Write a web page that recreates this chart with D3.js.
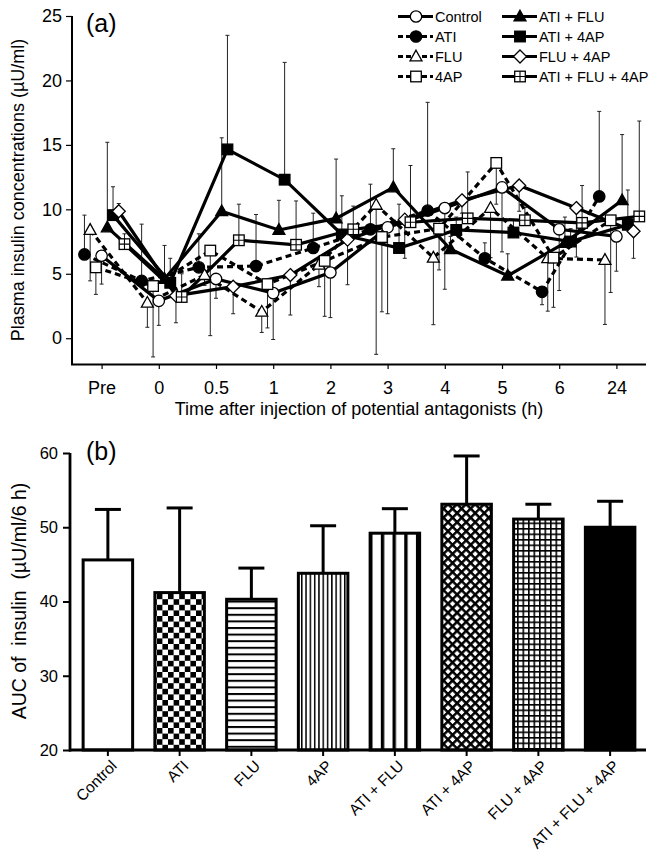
<!DOCTYPE html>
<html><head><meta charset="utf-8">
<script src="https://cdn.jsdelivr.net/npm/d3@7"></script>
<style>
body{margin:0;background:#fff;}
svg{display:block;font-family:"Liberation Sans",Arial,Helvetica,sans-serif;}
</style></head><body>
<svg id="chart" width="650" height="851"></svg>
<script>
// ---------- DATA: panel (a) ----------
const timeLabels = ["Pre","0","0.5","1","2","3","4","5","6","24"];
const seriesNames = ["Control","ATI","FLU","4AP","ATI + FLU","ATI + 4AP","FLU + 4AP","ATI + FLU + 4AP"];
// mean values (µU/ml)
const control = [6.4, 2.9, 4.6, 3.5, 5.1, 8.6, 10.1, 11.7, 8.45, 7.9];
const ati     = [6.5, 4.45, 5.5, 5.6, 7.0, 8.45, 9.9, 6.2, 3.6, 11.0];
const flu     = [8.4, 2.75, 4.9, 2.05, 5.7, 10.35, 6.25, 10.1, 6.2, 6.07];
const ap4     = [5.5, 4.05, 6.8, 4.2, 6.0, 7.85, 8.5, 13.6, 6.25, 9.15];
const atiFlu  = [8.6, 4.6, 9.85, 8.4, 9.3, 11.7, 6.9, 4.85, 7.4, 10.7];
const ati4ap  = [9.55, 4.3, 14.65, 12.3, 8.05, 7.0, 8.4, 8.2, 7.5, 8.8];
const flu4ap  = [9.85, 3.3, 4.0, 4.9, 7.65, 9.2, 10.7, 11.85, 10.1, 8.3];
const all3    = [7.3, 3.2, 7.6, 7.25, 8.45, 9.0, 9.3, 9.15, 8.95, 9.45];
// SD (positive = bar drawn upward, negative = drawn downward)
const controlErr = [-2.2, -1.9, -1.5, -3.6, -3.5, -6.7, -6.3, -5.0, -4.75, -2.7];
const atiErr     = [3.05, 4.4, 2.6, 4.0, 2.7, 3.5, 8.4, 1.2, -1.0, 6.6];
const fluErr     = [-3.95, -1.9, -0.8, -1.6, -1.7, -11.6, -5.2, -3.85, -4.1, -5.0];
const ap4Err     = [-2.1, -5.5, -6.6, -3.4, -4.3, -5.8, -3.2, -3.2, -3.85, -5.6];
const atiFluErr  = [6.6, 2.6, 5.7, 2.3, 4.6, 3.0, 1.0, 1.7, 2.0, 5.1];
const ati4apErr  = [2.2, 1.9, 8.85, 9.1, 3.0, 3.4, 1.0, 1.0, 1.0, 2.7];
const flu4apErr  = [0.6, -2.1, -2.1, -3.1, -3.5, -3.0, -1.0, -2.0, -3.8, -2.1];
const all3Err    = [0.8, 1.8, 2.8, 3.4, 1.8, 4.4, 3.6, 1.0, 2.9, 7.4];
const yTicksA = [0, 5, 10, 15, 20, 25];

// ---------- DATA: panel (b) ----------
const aucGroups = ["Control","ATI","FLU","4AP","ATI + FLU","ATI + 4AP","FLU + 4AP","ATI + FLU + 4AP"];
const aucMean = [45.6, 41.2, 40.3, 43.8, 49.2, 53.1, 51.1, 50.0];
const aucSD   = [6.8, 11.4, 4.2, 6.4, 3.3, 6.5, 2.0, 3.5];
const yTicksB = [20, 30, 40, 50, 60];

// ---------- styles ----------
const seriesValues = [control, ati, flu, ap4, atiFlu, ati4ap, flu4ap, all3];
const seriesErrs = [controlErr, atiErr, fluErr, ap4Err, atiFluErr, ati4apErr, flu4apErr, all3Err];
const markerType = ["circle","circleF","tri","square","triF","squareF","diamond","squareX"];
const dashed = [false, true, true, true, false, false, false, false];
const dodge = [0, -3, -2, -1, 1, 2, 3, 4];
const series = seriesNames.map((n, i) => ({name: n, values: seriesValues[i], err: seriesErrs[i],
  marker: markerType[i], dashed: dashed[i], dodge: dodge[i]}));

const svg = d3.select("#chart");
const FONT = '"Liberation Sans", Arial, Helvetica, sans-serif';

function drawMarker(g, type, x, y) {
  const sw = 1.3;
  if (type === "circle" || type === "circleF") {
    g.append("circle").attr("cx", x).attr("cy", y).attr("r", 5.7)
      .attr("fill", type === "circleF" ? "#000" : "#fff").attr("stroke", "#000").attr("stroke-width", sw);
  } else if (type === "tri" || type === "triF") {
    const s = 6.3;
    g.append("path").attr("d", `M${x},${y - s}L${x + s * 0.95},${y + s * 0.7}L${x - s * 0.95},${y + s * 0.7}Z`)
      .attr("fill", type === "triF" ? "#000" : "#fff").attr("stroke", "#000").attr("stroke-width", sw);
  } else if (type === "square" || type === "squareF" || type === "squareX") {
    const s = 5.3;
    g.append("rect").attr("x", x - s).attr("y", y - s).attr("width", 2 * s).attr("height", 2 * s)
      .attr("fill", type === "squareF" ? "#000" : "#fff").attr("stroke", "#000").attr("stroke-width", sw);
    if (type === "squareX") {
      g.append("path").attr("d", `M${x - s},${y}H${x + s}M${x},${y - s}V${y + s}`)
        .attr("stroke", "#000").attr("stroke-width", 1.1).attr("fill", "none");
    }
  } else if (type === "diamond") {
    const s = 6.5;
    g.append("path").attr("d", `M${x},${y - s}L${x + s},${y}L${x},${y + s}L${x - s},${y}Z`)
      .attr("fill", "#fff").attr("stroke", "#000").attr("stroke-width", sw);
  }
}

// ================= PANEL (a) =================
const xA = d3.scaleLinear().domain([-0.5, 9.5]).range([73, 645]);
const yA = d3.scaleLinear().domain([-2, 25]).range([364, 16]);
const step = xA(1) - xA(0);
const gA = svg.append("g");

// axes
const axA = gA.append("g").attr("transform", "translate(0,364)")
  .call(d3.axisBottom(xA).tickValues(d3.range(timeLabels.length)).tickFormat(i => timeLabels[i])
    .tickSize(5).tickSizeOuter(0).tickPadding(12));
axA.select(".domain").attr("d", "M71,0.5H646").attr("stroke-width", 2);
axA.selectAll(".tick line").attr("stroke-width", 1.2);
axA.selectAll("text").attr("font-size", 18).attr("font-family", FONT).attr("fill", "#000");

const ayA = gA.append("g").attr("transform", "translate(72,0)")
  .call(d3.axisLeft(yA).tickValues(yTicksA).tickSize(6).tickSizeOuter(0).tickPadding(4));
ayA.select(".domain").attr("d", `M0,${yA(25)}V365`).attr("stroke-width", 2);
ayA.selectAll(".tick line").attr("stroke-width", 1.2);
ayA.selectAll("text").attr("font-size", 18).attr("font-family", FONT).attr("fill", "#000");

gA.append("text").attr("x", 359).attr("y", 415).attr("text-anchor", "middle")
  .attr("font-size", 18).text("Time after injection of potential antagonists (h)");
gA.append("text").attr("transform", "translate(24,190) rotate(-90)").attr("text-anchor", "middle")
  .attr("font-size", 18).text("Plasma insulin concentrations (\u00b5U/ml)");
gA.append("text").attr("x", 86).attr("y", 32).attr("font-size", 25).text("(a)");

const px = (s, i) => xA(i) + s.dodge * step * 0.1;

// error bars
const gErr = gA.append("g").attr("stroke", "#222").attr("stroke-width", 1);
series.forEach(s => {
  s.values.forEach((v, i) => {
    const x = px(s, i), y0 = yA(v), y1 = yA(v + s.err[i]);
    gErr.append("line").attr("x1", x).attr("x2", x).attr("y1", y0).attr("y2", y1);
    gErr.append("line").attr("x1", x - 2).attr("x2", x + 2).attr("y1", y1).attr("y2", y1);
  });
});
// lines
const line = d3.line().x(d => d.x).y(d => d.y);
series.forEach(s => {
  const pts = s.values.map((v, i) => ({x: px(s, i), y: yA(v)}));
  gA.append("path").attr("d", line(pts)).attr("fill", "none").attr("stroke", "#000")
    .attr("stroke-width", 3.2).attr("stroke-dasharray", s.dashed ? "6,4" : null);
});
// markers
series.forEach(s => {
  const g = gA.append("g");
  s.values.forEach((v, i) => drawMarker(g, s.marker, px(s, i), yA(v)));
});

// legend
const leg = gA.append("g");
series.forEach((s, i) => {
  const col = i < 4 ? 0 : 1, row = i % 4;
  const x0 = col === 0 ? 398 : 502, y = 16.5 + row * 20;
  leg.append("line").attr("x1", x0).attr("x2", x0 + 35).attr("y1", y).attr("y2", y)
    .attr("stroke", "#000").attr("stroke-width", 3).attr("stroke-dasharray", s.dashed ? "5,3" : null);
  drawMarker(leg, s.marker, x0 + 18, y);
  leg.append("text").attr("x", x0 + 37).attr("y", y + 5.5).attr("font-size", 14.5).text(s.name);
});

// ================= PANEL (b) =================
const xB = d3.scaleBand().domain(aucGroups).range([72, 646]).paddingInner(0.31).paddingOuter(0.155);
const yB = d3.scaleLinear().domain([20, 60]).range([750, 453]);
const gB = svg.append("g");
const defs = svg.append("defs");

function pat(id, w, h) {
  const p = defs.append("pattern").attr("id", id).attr("patternUnits", "userSpaceOnUse")
    .attr("width", w).attr("height", h);
  p.append("rect").attr("width", w).attr("height", h).attr("fill", "#fff");
  return p;
}
// ATI checker
let p = pat("pChk", 11.2, 11.2);
p.append("rect").attr("width", 5.6).attr("height", 5.6).attr("fill", "#000");
p.append("rect").attr("x", 5.6).attr("y", 5.6).attr("width", 5.6).attr("height", 5.6).attr("fill", "#000");
// FLU horizontal
p = pat("pHor", 10, 6.6);
p.append("rect").attr("width", 10).attr("height", 2).attr("fill", "#000");
// 4AP thin vertical
p = pat("pVer", 4.3, 10);
p.append("rect").attr("width", 1.5).attr("height", 10).attr("fill", "#000");
// ATI+FLU thick vertical stripes (aligned to bar)
p = pat("pStripe", 11.7, 10).attr("x", xB("ATI + FLU") - 1);
p.append("rect").attr("width", 3.4).attr("height", 10).attr("fill", "#000");
// ATI+4AP crosshatch
p = pat("pCross", 6.4, 6.4).attr("patternTransform", "rotate(45)");
p.append("rect").attr("width", 2.5).attr("height", 6.4).attr("fill", "#000");
p.append("rect").attr("width", 6.4).attr("height", 2.5).attr("fill", "#000");
// FLU+4AP fine grid
p = pat("pGrid", 5.5, 5.5);
p.append("rect").attr("width", 1.6).attr("height", 5.5).attr("fill", "#000");
p.append("rect").attr("width", 5.5).attr("height", 1.6).attr("fill", "#000");

const fills = ["#fff", "url(#pChk)", "url(#pHor)", "url(#pVer)", "url(#pStripe)", "url(#pCross)", "url(#pGrid)", "#000"];

gB.selectAll("rect.bar").data(aucGroups).join("rect").attr("class", "bar")
  .attr("x", d => xB(d)).attr("width", xB.bandwidth())
  .attr("y", (d, i) => yB(aucMean[i])).attr("height", (d, i) => yB(20) - yB(aucMean[i]))
  .attr("fill", (d, i) => fills[i]).attr("stroke", "#000").attr("stroke-width", 3);

// error bars (upward)
aucGroups.forEach((d, i) => {
  const cx = xB(d) + xB.bandwidth() / 2, yt = yB(aucMean[i] + aucSD[i]);
  gB.append("line").attr("x1", cx).attr("x2", cx).attr("y1", yB(aucMean[i])).attr("y2", yt)
    .attr("stroke", "#000").attr("stroke-width", 3);
  gB.append("line").attr("x1", cx - 13).attr("x2", cx + 13).attr("y1", yt).attr("y2", yt)
    .attr("stroke", "#000").attr("stroke-width", 3);
});

const ayB = gB.append("g").attr("transform", "translate(70,0)")
  .call(d3.axisLeft(yB).tickValues(yTicksB).tickSize(7).tickSizeOuter(0).tickPadding(5));
ayB.select(".domain").attr("d", `M0,${yB(60)}V${yB(20) + 1.5}`).attr("stroke-width", 2.8);
ayB.selectAll(".tick line").attr("stroke-width", 2);
ayB.selectAll("text").attr("font-size", 16.5).attr("font-family", FONT).attr("fill", "#000");

const axB = gB.append("g").attr("transform", "translate(0,750)")
  .call(d3.axisBottom(xB).tickSize(6).tickSizeOuter(0));
axB.select(".domain").attr("d", "M69,0H646").attr("stroke-width", 2.8);
axB.selectAll(".tick line").attr("stroke-width", 2);
axB.selectAll("text").attr("font-size", 15.5).attr("font-family", FONT).attr("fill", "#000")
  .attr("text-anchor", "end").attr("dy", "0.35em").attr("y", 0)
  .attr("transform", "translate(6,13) rotate(-45)");

gB.append("text").attr("transform", "translate(26,601) rotate(-90)").attr("text-anchor", "middle")
  .attr("font-size", 19.5).attr("xml:space", "preserve").style("white-space", "pre")
  .text("AUC of  insulin  (\u00b5U/ml/6 h)");
gB.append("text").attr("x", 86).attr("y", 460).attr("font-size", 25).text("(b)");
</script>
</body></html>
